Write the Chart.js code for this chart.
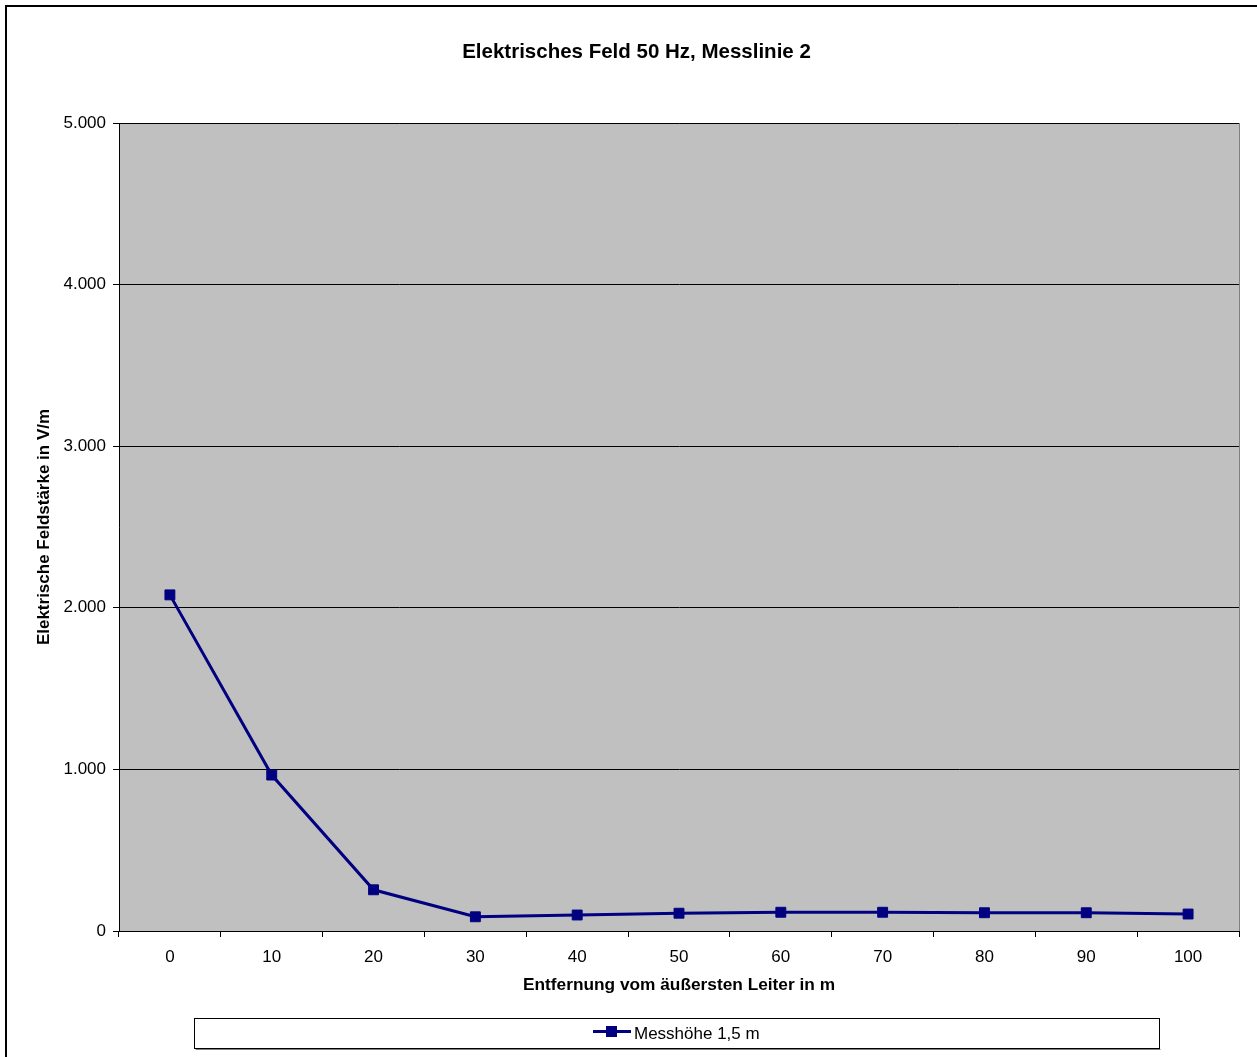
<!DOCTYPE html>
<html lang="de">
<head>
<meta charset="utf-8">
<title>Elektrisches Feld 50 Hz, Messlinie 2</title>
<script src="https://cdn.jsdelivr.net/npm/chart.js@4/dist/chart.umd.min.js"></script>
<style>
  html, body { margin: 0; padding: 0; background: #ffffff; }
  canvas { display: block; }
</style>
</head>
<body>
<canvas id="chart" width="1257" height="1057"></canvas>
<script>
// Messwerte: Entfernung (m) und elektrische Feldstärke (V/m)
const distances = ['0', '10', '20', '30', '40', '50', '60', '70', '80', '90', '100'];
const fieldStrength = [2080, 965, 255, 88, 99, 110, 116, 116, 113, 113, 105];
const seriesLabel = 'Messhöhe 1,5 m';
const yTickValues = [0, 1000, 2000, 3000, 4000, 5000];
const yTickLabels = ['0', '1.000', '2.000', '3.000', '4.000', '5.000'];

const FONT = '"Liberation Sans", Arial, sans-serif';
const NAVY = '#000080';

// Grauer Zeichenbereich mit Rahmen
const plotBackground = {
  id: 'plotBackground',
  beforeDraw(chart) {
    const { ctx, chartArea: a } = chart;
    ctx.save();
    ctx.fillStyle = '#C0C0C0';
    ctx.fillRect(a.left, a.top, a.right - a.left, a.bottom - a.top);
    ctx.strokeStyle = '#808080';
    ctx.lineWidth = 1;
    ctx.strokeRect(Math.round(a.left) + 0.5, Math.round(a.top) + 0.5,
                   Math.round(a.right - a.left), Math.round(a.bottom - a.top));
    ctx.restore();
  }
};

// Diagrammrahmen (links und oben) und Legendenkasten
const frameAndLegend = {
  id: 'frameAndLegend',
  afterDraw(chart) {
    const { ctx } = chart;
    ctx.save();
    ctx.strokeStyle = '#000000';
    ctx.lineWidth = 2;
    ctx.beginPath();
    ctx.moveTo(6, chart.height + 2);
    ctx.lineTo(6, 6);
    ctx.lineTo(chart.width + 2, 6);
    ctx.stroke();

    // Legende
    const bx = 194.5, by = 1018.5, bw = 965, bh = 30;
    ctx.fillStyle = '#ffffff';
    ctx.fillRect(bx, by, bw, bh);
    ctx.strokeStyle = '#808080';
    ctx.lineWidth = 1;
    ctx.beginPath();
    ctx.moveTo(bx + 1, by + bh + 1);
    ctx.lineTo(bx + bw + 1, by + bh + 1);
    ctx.stroke();
    ctx.strokeStyle = '#000000';
    ctx.strokeRect(bx, by, bw, bh);

    const ds = chart.data.datasets[0];
    const my = 1031.5;
    ctx.strokeStyle = ds.borderColor;
    ctx.lineWidth = 3;
    ctx.beginPath();
    ctx.moveTo(593, my);
    ctx.lineTo(631, my);
    ctx.stroke();
    ctx.fillStyle = ds.pointBackgroundColor;
    ctx.fillRect(606, my - 5.5, 11, 11);

    ctx.fillStyle = '#000000';
    ctx.font = '17px ' + FONT;
    ctx.textAlign = 'left';
    ctx.textBaseline = 'middle';
    ctx.fillText(ds.label, 634, 1034);
    ctx.restore();
  }
};

new Chart(document.getElementById('chart'), {
  type: 'line',
  data: {
    labels: distances,
    datasets: [{
      label: seriesLabel,
      data: fieldStrength,
      borderColor: NAVY,
      backgroundColor: NAVY,
      borderWidth: 3,
      tension: 0,
      pointStyle: 'rect',
      pointRadius: 7,
      pointHoverRadius: 7,
      pointBackgroundColor: NAVY,
      pointBorderColor: NAVY,
      pointBorderWidth: 1
    }]
  },
  options: {
    responsive: false,
    animation: false,
    events: [],
    layout: { padding: { left: 34, right: 18, top: 0, bottom: 62 } },
    plugins: {
      legend: { display: false },
      tooltip: { enabled: false },
      title: {
        display: true,
        text: 'Elektrisches Feld 50 Hz, Messlinie 2',
        color: '#000000',
        font: { family: FONT, size: 20.5, weight: 'bold', lineHeight: 1.2 },
        padding: { top: 40, bottom: 58.4 }
      }
    },
    scales: {
      x: {
        type: 'category',
        offset: true,
        afterFit(scale) { scale.height = 64; },
        grid: {
          offset: true,
          drawOnChartArea: false,
          drawTicks: true,
          tickLength: 6,
          color: '#000000',
          lineWidth: 1
        },
        border: { display: true, color: '#000000', width: 1 },
        ticks: {
          color: '#000000',
          padding: 10,
          maxRotation: 0,
          autoSkip: false,
          font: { family: FONT, size: 17 }
        },
        title: {
          display: true,
          text: 'Entfernung vom äußersten Leiter in m',
          color: '#000000',
          padding: { top: 0, bottom: -1 },
          font: { family: FONT, size: 17.3, weight: 'bold', lineHeight: 1.2 }
        }
      },
      y: {
        min: 0,
        max: 5000,
        afterFit(scale) { scale.width = 85; },
        afterBuildTicks(scale) { scale.ticks = yTickValues.map(v => ({ value: v })); },
        grid: {
          drawOnChartArea: true,
          drawTicks: true,
          tickLength: 6,
          color: '#000000',
          lineWidth: 1
        },
        border: { display: true, color: '#000000', width: 1 },
        ticks: {
          color: '#000000',
          padding: 7,
          font: { family: FONT, size: 17 },
          callback: (value) => yTickLabels[yTickValues.indexOf(value)]
        },
        title: {
          display: true,
          text: 'Elektrische Feldstärke in V/m',
          color: '#000000',
          padding: 0,
          font: { family: FONT, size: 17, weight: 'bold', lineHeight: 1.2 }
        }
      }
    }
  },
  plugins: [plotBackground, frameAndLegend]
});
</script>
</body>
</html>
